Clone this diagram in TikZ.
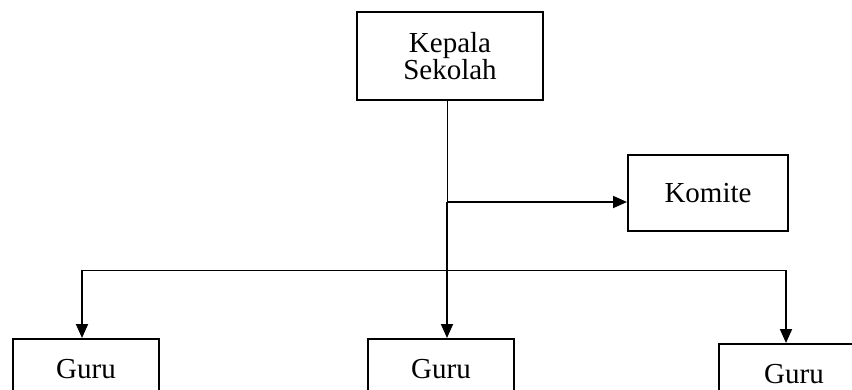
\documentclass[tikz,border=0pt]{standalone}
\usepackage{fontspec}
\setmainfont{Liberation Serif}
\usetikzlibrary{arrows.meta}
\begin{document}
\begin{tikzpicture}[x=1pt,y=-1pt,
  box/.style={draw,line width=2pt,inner sep=0pt,align=center,font=\fontsize{29}{25}\selectfont},
  thin/.style={line width=0.8pt},
  thick arrow/.style={line width=1.8pt,-{Triangle[length=14pt,width=12pt]}}]
\clip (0,0) rectangle (852,389);
\node[box,minimum width=186pt,minimum height=88pt] (kepala) at (450,56) {Kepala\\Sekolah};
\node[box,minimum width=160pt,minimum height=76pt] (komite) at (708,193) {Komite};
\node[box,minimum width=146pt,minimum height=60pt] (guru1) at (86,369) {Guru};
\node[box,minimum width=146pt,minimum height=60pt] (guru2) at (441,369) {Guru};
\node[box,minimum width=150pt,minimum height=60pt] (guru3) at (794,374) {Guru};
\coordinate (split) at (447,202);
\coordinate (hl) at (82,270);
\coordinate (hr) at (786,270);
\draw[thin] (kepala.south -| split) -- (split);
\draw[thick arrow] (split) -- (split -| komite.west);
\draw[thick arrow] (split) -- (split |- guru2.north);
\draw[thin] (hl) -- (hr);
\draw[thick arrow] (hl) -- (hl |- guru1.north);
\draw[thick arrow] (hr) -- (hr |- guru3.north);
\end{tikzpicture}
\end{document}
